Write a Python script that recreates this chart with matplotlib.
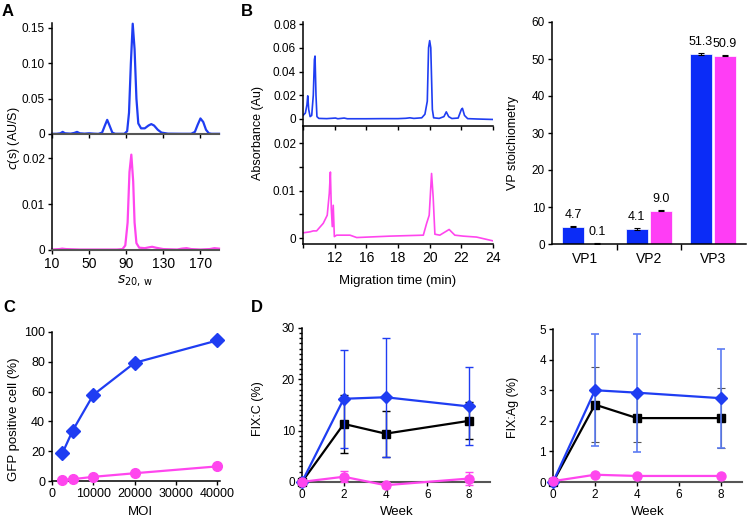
import numpy as np
import matplotlib.pyplot as plt
from matplotlib.ticker import MultipleLocator

plt.rcParams['font.family'] = ['Liberation Sans', 'DejaVu Sans']
plt.rcParams['font.size'] = 8.5

BLUE = '#1f3df2'
PINK = '#ff46ee'
EBLUE = '#5c7cf2'
GREY = '#555555'

# panel A: sedimentation c(s) traces
a_s_blue = [10, 15, 19, 21.5, 24, 30, 34, 37, 40, 45, 50, 55, 60, 64, 67, 69.5, 72, 75, 78,
            88, 91, 93, 95, 97, 99, 101, 103, 106, 110, 114, 117, 120, 124, 128, 135,
            150, 160, 164, 167, 170, 173, 176, 179, 182, 190]
a_c_blue = [0.0003, 0.0003, 0.001, 0.003, 0.001, 0.0005, 0.0015, 0.003, 0.001, 0.0005, 0.001,
            0.0005, 0.0002, 0.002, 0.012, 0.020, 0.012, 0.002, 0.0003,
            0.0003, 0.004, 0.03, 0.10, 0.156, 0.12, 0.05, 0.015, 0.008, 0.008, 0.012, 0.014,
            0.012, 0.006, 0.002, 0.0005,
            0.0003, 0.0003, 0.003, 0.013, 0.022, 0.017, 0.006, 0.001, 0.0003, 0.0003]
a_s_pink = [10, 18, 21, 25, 40, 60, 80, 86, 89, 91.5, 93.5, 95.5, 97.5, 99, 101, 104, 110,
            115, 118, 122, 130, 145, 150, 155, 160, 170, 180, 185, 190]
a_c_pink = [0.0001, 0.0002, 0.0003, 0.0002, 0.0001, 0.0001, 0.0001, 0.0002, 0.001, 0.006,
            0.017, 0.0208, 0.015, 0.006, 0.0015, 0.0005, 0.0004, 0.0006, 0.0007, 0.0005,
            0.0002, 0.0001, 0.0003, 0.0004, 0.0002, 0.0001, 0.0002, 0.0004, 0.0003]

# panel B: electropherograms (axis units as drawn)
b_t_blue = [12.0, 12.15, 12.25, 12.30, 12.36, 12.45, 12.55, 12.65, 12.72, 12.76, 12.82, 12.88,
            13.0, 13.5, 14.05, 14.2, 14.6, 14.8, 16.0, 17.0, 18.0, 18.5, 18.75, 19.0, 19.5,
            19.7, 19.85, 19.93, 20.0, 20.07, 20.17, 20.25, 20.6, 20.9, 21.05, 21.2, 21.4,
            21.8, 22.0, 22.07, 22.2, 22.4, 23.0, 24.0]
b_a_blue = [0.003, 0.005, 0.012, 0.0195, 0.008, 0.002, 0.003, 0.02, 0.05, 0.053, 0.02, 0.002,
            0.0005, 0.0003, 0.0008, 0.0002, 0.0008, 0.0002, 0.0002, 0.0003, 0.0003, 0.0006,
            0.001, 0.0005, 0.001, 0.004, 0.015, 0.06, 0.066, 0.06, 0.008, 0.001, 0.0005,
            0.002, 0.006, 0.002, 0.0004, 0.0008, 0.008, 0.009, 0.003, 0.0003, 0.0, -0.0004]
b_t_pink = [12.02, 12.44, 12.65, 12.86, 13.28, 13.53, 13.66, 13.73, 13.79, 13.85, 13.91, 13.98,
            14.12, 14.97, 15.39, 17.5, 19.6, 19.8, 19.97, 20.12, 20.22, 20.33, 20.64, 21.23,
            21.59, 22.11, 22.96, 24.0]
b_a_pink = [0.0011, 0.0013, 0.0015, 0.0015, 0.0031, 0.0048, 0.0094, 0.0139, 0.006, 0.0024,
            0.0069, 0.0003, 0.0006, 0.0006, 0.0001, 0.0004, 0.0006, 0.003, 0.0048, 0.0136,
            0.0087, 0.0008, 0.0006, 0.0018, 0.0006, 0.0004, 0.0002, -0.0006]
b_ticks = [12, 14, 16, 18, 20, 22, 24]
b_ticklabels = ['', '12', '16', '18', '20', '22', '24']

# VP stoichiometry
vp_names = ['VP1', 'VP2', 'VP3']
vp_blue = [4.7, 4.1, 51.3]
vp_pink = [0.1, 9.0, 50.9]
vp_blue_err = [0.2, 0.2, 0.2]
vp_pink_err = [0.05, 0.15, 0.15]

# panel C
moi = [2500, 5000, 10000, 20000, 40000]
gfp_blue = [18.5, 33.8, 57.8, 79.3, 94.3]
gfp_pink = [0.8, 1.2, 2.8, 5.2, 9.8]

# panel D
weeks = [0, 2, 4, 8]
fixc_blue = [0, 16.2, 16.5, 14.7]
fixc_blue_err = [0, 9.5, 11.6, 7.6]
fixc_black = [0, 11.3, 9.4, 11.9]
fixc_black_err = [0, 5.7, 4.5, 3.6]
fixc_pink = [0, 1.0, -0.65, 0.65]
fixc_pink_err = [0, 1.1, 0.5, 1.2]
fixag_blue = [0, 3.0, 2.92, 2.74]
fixag_blue_err = [0, 1.83, 1.93, 1.62]
fixag_black = [0, 2.53, 2.09, 2.09]
fixag_black_err = [0, 1.23, 0.78, 0.97]
fixag_pink = [0.03, 0.24, 0.2, 0.2]

W, H = 747, 519
fig = plt.figure(figsize=(W / 100, H / 100), dpi=100)


def rect(l, t, r, b):
    return [l / W, 1 - b / H, (r - l) / W, (b - t) / H]


def style(ax):
    for side in ('top', 'right'):
        ax.spines[side].set_visible(False)
    for side in ('left', 'bottom'):
        ax.spines[side].set_linewidth(1.1)
    ax.tick_params(direction='out', length=3, width=1, pad=2, labelsize=8.5)
    ax.tick_params(which='minor', direction='out', length=2.5, width=1)
    ax.patch.set_alpha(0)


# ---- A
axA1 = fig.add_axes(rect(52, 23, 219, 134))
axA2 = fig.add_axes(rect(52, 134, 219, 250))
for ax in (axA1, axA2):
    style(ax)
    ax.set_xlim(10, 190)
    ax.set_xticks([10, 50, 90, 130, 170])
    ax.spines['bottom'].set_color(GREY)
    ax.spines['bottom'].set_linewidth(1.5)
axA1.plot(a_s_blue, a_c_blue, color=BLUE, lw=1.6, clip_on=False)
axA1.set_ylim(0, 0.157)
axA1.set_yticks([0, 0.05, 0.10, 0.15])
axA1.set_yticklabels(['0', '0.05', '0.10', '0.15'])
axA1.tick_params(axis='x', labelbottom=False)
axA2.plot(a_s_pink, a_c_pink, color=PINK, lw=1.6, clip_on=False)
axA2.set_ylim(0, 0.0253)
axA2.set_yticks([0, 0.01, 0.02])
axA2.set_yticklabels(['0', '0.01', '0.02'])
axA2.tick_params(axis='x', labelsize=10)
fig.text(14 / W, 1 - 138 / H, '$c$(s) (AU/S)', rotation=90, ha='center', va='center', fontsize=9)
fig.text(135 / W, 1 - 282 / H, r'$s_{\mathrm{20,\,w}}$', ha='center', va='center', fontsize=10)

# ---- B electropherograms
axB1 = fig.add_axes(rect(303, 22, 493, 126))
axB2 = fig.add_axes(rect(303, 126, 493, 244))
for ax in (axB1, axB2):
    style(ax)
    ax.set_xlim(12, 24)
    ax.set_xticks(b_ticks)
axB1.plot(b_t_blue, b_a_blue, color=BLUE, lw=1.2)
axB1.set_ylim(-0.0059, 0.0817)
axB1.set_yticks([0, 0.02, 0.04, 0.06, 0.08])
axB1.set_yticklabels(['0', '0.02', '0.04', '0.06', '0.08'])
axB1.tick_params(axis='x', labelbottom=False)
axB2.plot(b_t_pink, b_a_pink, color=PINK, lw=1.2)
axB2.set_ylim(-0.00126, 0.0236)
axB2.set_yticks([0, 0.01, 0.02])
axB2.set_yticklabels(['0', '0.01', '0.02'])
axB2.yaxis.set_minor_locator(MultipleLocator(0.005))
axB2.tick_params(which='minor', length=3)
axB2.set_xticklabels(b_ticklabels)
axB2.tick_params(axis='x', labelsize=10)
fig.text(258 / W, 1 - 133 / H, 'Absorbance (Au)', rotation=90, ha='center', va='center', fontsize=9)
fig.text(398 / W, 1 - 281 / H, 'Migration time (min)', ha='center', va='center', fontsize=9.5)

# ---- B bars
axV = fig.add_axes(rect(552, 22, 746, 244))
style(axV)
xv = np.arange(len(vp_names))
off, bw = 0.19, 0.34
axV.bar(xv - off, vp_blue, bw, color='#0b2cf7', edgecolor='white', linewidth=0.5,
        yerr=vp_blue_err, error_kw=dict(ecolor='black', capsize=2.5, elinewidth=0.8, capthick=0.8))
axV.bar(xv + off, vp_pink, bw, color='#ff3df5', edgecolor='white', linewidth=0.5,
        yerr=vp_pink_err, error_kw=dict(ecolor='black', capsize=2.5, elinewidth=0.8, capthick=0.8))
for i in range(len(vp_names)):
    axV.text(xv[i] - off, vp_blue[i] + 1.6, f'{vp_blue[i]:.1f}', ha='center', va='bottom', fontsize=9)
    axV.text(xv[i] + off, vp_pink[i] + 1.6, f'{vp_pink[i]:.1f}', ha='center', va='bottom', fontsize=9)
axV.set_xlim(-0.52, 2.52)
axV.set_ylim(0, 60)
axV.set_yticks(range(0, 61, 10))
axV.set_xticks([0.5, 1.5])
axV.set_xticklabels([])
axV.set_xticks(xv, minor=True)
axV.set_xticklabels(vp_names, minor=True)
axV.tick_params(axis='x', which='minor', length=0, labelsize=10, pad=6)
axV.tick_params(axis='x', which='major', length=4)
fig.text(513 / W, 1 - 143 / H, 'VP stoichiometry', rotation=90, ha='center', va='center', fontsize=9)

# ---- C
axC = fig.add_axes(rect(52, 332, 220, 481))
style(axC)
axC.plot(moi, gfp_blue, color=BLUE, lw=1.6, marker='D', ms=7, clip_on=False, zorder=3)
axC.plot(moi, gfp_pink, color=PINK, lw=1.6, marker='o', ms=7, clip_on=False, zorder=3)
axC.set_xlim(0, 40700)
axC.set_ylim(0, 100)
axC.set_xticks([0, 10000, 20000, 30000, 40000])
axC.set_yticks(range(0, 101, 20))
axC.tick_params(labelsize=9)
fig.text(14 / W, 1 - 419 / H, 'GFP positive cell (%)', rotation=90, ha='center', va='center', fontsize=9.5)
fig.text(140 / W, 1 - 512 / H, 'MOI', ha='center', va='center', fontsize=9.5)

# ---- D
axD1 = fig.add_axes(rect(302, 328, 490, 487))
axD2 = fig.add_axes(rect(553, 329, 742, 483))
for ax in (axD1, axD2):
    style(ax)
    ax.set_xlim(0, 9)
    ax.set_xticks([0, 2, 4, 6, 8])
    ax.spines['bottom'].set_position(('data', 0))
    ax.spines['bottom'].set_color(GREY)
    ax.spines['bottom'].set_linewidth(1.5)
    ax.tick_params(axis='x', colors='black')

axD1.errorbar(weeks, fixc_black, yerr=fixc_black_err, color='black', lw=1.6, marker='s', ms=6,
              capsize=3, elinewidth=1, capthick=1, clip_on=False, zorder=3)
axD1.errorbar(weeks, fixc_blue, yerr=fixc_blue_err, color=BLUE, ecolor=BLUE, lw=1.6, marker='D',
              ms=6.5, capsize=3, elinewidth=1, capthick=1, clip_on=False, zorder=4)
axD1.errorbar(weeks, fixc_pink, yerr=fixc_pink_err, color=PINK, ecolor=PINK, lw=1.6, marker='o',
              ms=6.5, capsize=3, elinewidth=1, capthick=1, clip_on=False, zorder=5)
axD1.set_ylim(-1, 30)
axD1.set_yticks([0, 10, 20, 30])
axD1.yaxis.set_minor_locator(MultipleLocator(1))
fig.text(258 / W, 1 - 409 / H, 'FIX:C (%)', rotation=90, ha='center', va='center', fontsize=9)
fig.text(397 / W, 1 - 512 / H, 'Week', ha='center', va='center', fontsize=9.5)

axD2.errorbar(weeks, fixag_black, yerr=fixag_black_err, color='black', ecolor='#555555', lw=1.6,
              marker='s', ms=6, capsize=3, elinewidth=0.8, capthick=0.8, clip_on=False, zorder=3)
axD2.errorbar(weeks, fixag_blue, yerr=fixag_blue_err, color=BLUE, ecolor=EBLUE, lw=1.6, marker='D',
              ms=6.5, capsize=3, elinewidth=1.2, capthick=1.2, clip_on=False, zorder=4)
axD2.plot(weeks, fixag_pink, color=PINK, lw=1.6, marker='o', ms=6.5, clip_on=False, zorder=5)
axD2.set_ylim(-0.03, 5)
axD2.set_yticks(range(0, 6))
fig.text(513 / W, 1 - 407 / H, 'FIX:Ag (%)', rotation=90, ha='center', va='center', fontsize=9)
fig.text(648 / W, 1 - 512 / H, 'Week', ha='center', va='center', fontsize=9.5)

# panel letters
for lab, x, y in [('A', 8, 12), ('B', 247, 12), ('C', 9, 307), ('D', 257, 307)]:
    fig.text(x / W, 1 - y / H, lab, fontsize=12, fontweight='bold', ha='center', va='center')

fig.savefig('out.png', dpi=100)
